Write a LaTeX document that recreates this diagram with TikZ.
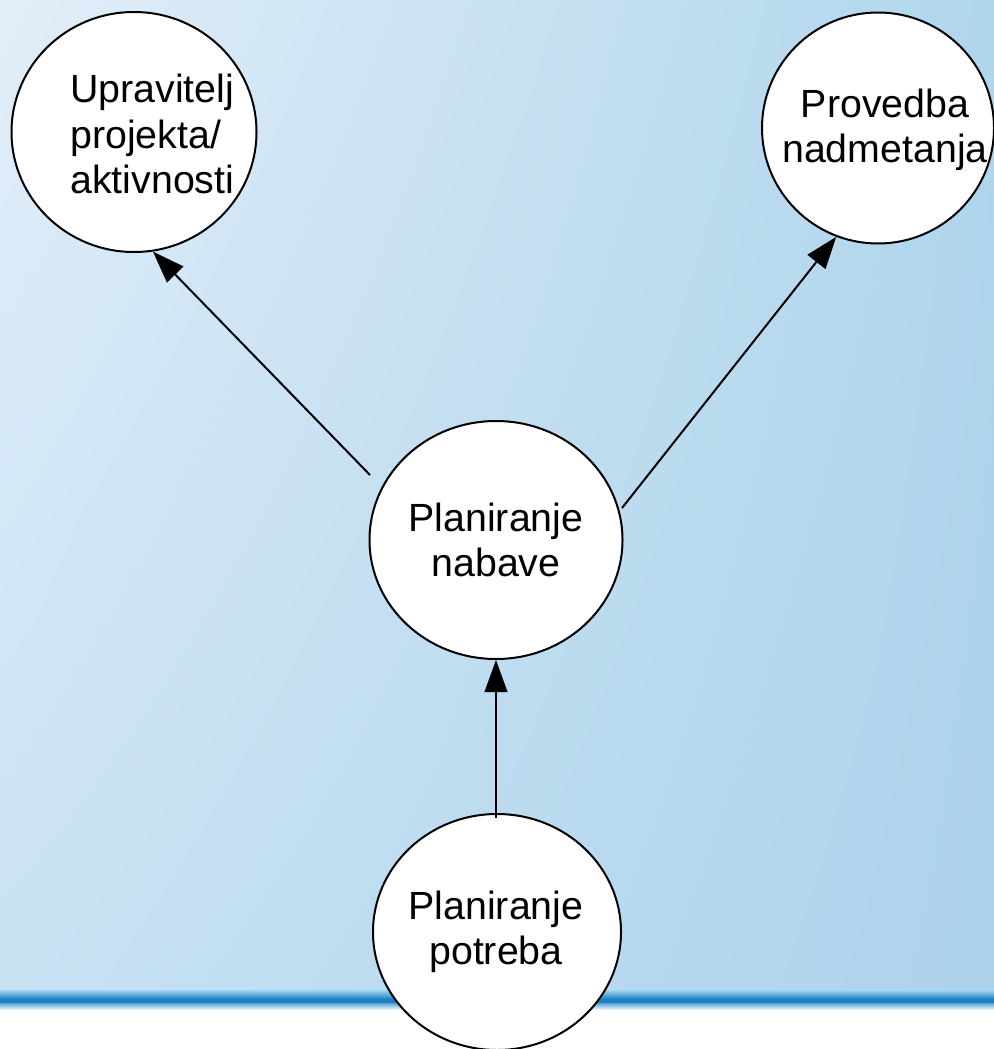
\documentclass[tikz,border=0pt]{standalone}
\usepackage{fontspec}
\setmainfont{Liberation Sans}
\usetikzlibrary{shapes.geometric,arrows.meta,shadings}
\definecolor{bgTL}{RGB}{226,238,249}
\definecolor{bgTR}{RGB}{176,214,236}
\definecolor{bgBL}{RGB}{200,226,244}
\definecolor{bgBR}{RGB}{172,210,234}
\definecolor{lineblue}{RGB}{30,128,190}
\definecolor{glowblue}{RGB}{160,215,245}
\tikzset{
  bubble/.style={ellipse, draw=black, line width=1.5pt, fill=white, inner sep=0pt},
  lbl/.style={align=center, font=\fontsize{29.5}{34}\selectfont, inner sep=0pt},
  conn/.style={draw=black, line width=1.5pt, -{Triangle[length=24pt,width=17pt]}}
}
\begin{document}
\begin{tikzpicture}[x=0.75pt,y=-0.75pt]
\useasboundingbox (0,0) rectangle (994,1049);
% background
\shade[upper left=bgTL, upper right=bgTR, lower left=bgBL, lower right=bgBR] (0,0) rectangle (994,996);
\fill[white] (0,996) rectangle (994,1049);
\shade[top color=glowblue, bottom color=lineblue] (0,990) rectangle (994,999);
\fill[lineblue] (0,999) rectangle (994,1003);
\shade[top color=lineblue!60!glowblue, bottom color=white] (0,1003) rectangle (994,1010);
% circles
\node[bubble, minimum width=183.75pt, minimum height=180pt] (upr) at (134,132) {};
\node[bubble, minimum width=174pt, minimum height=173.25pt] (prov) at (878,128) {};
\node[bubble, minimum width=189.75pt, minimum height=178.5pt] (nab) at (496,540) {};
\node[bubble, minimum width=186pt, minimum height=177pt] (pot) at (497,932) {};
% labels
\node[lbl, align=left, anchor=west] (uprT) at (70,134) {Upravitelj\\projekta/\\aktivnosti};
\node[lbl] (provT) at (885,130) {Provedba\\nadmetanja};
\node[lbl] (nabT) at (496,540) {Planiranje\\nabave};
\node[lbl] (potT) at (496,932) {Planiranje\\potreba};
% connector start points
\coordinate (s1) at (370,475);
\coordinate (s2) at (622,508);
\coordinate (s3) at (496,818);
\draw[conn] (s1) -- (upr.-81);
\draw[conn] (s2) -- (prov.-111);
\draw[conn] (s3) -- (nab.south);
\end{tikzpicture}
\end{document}
